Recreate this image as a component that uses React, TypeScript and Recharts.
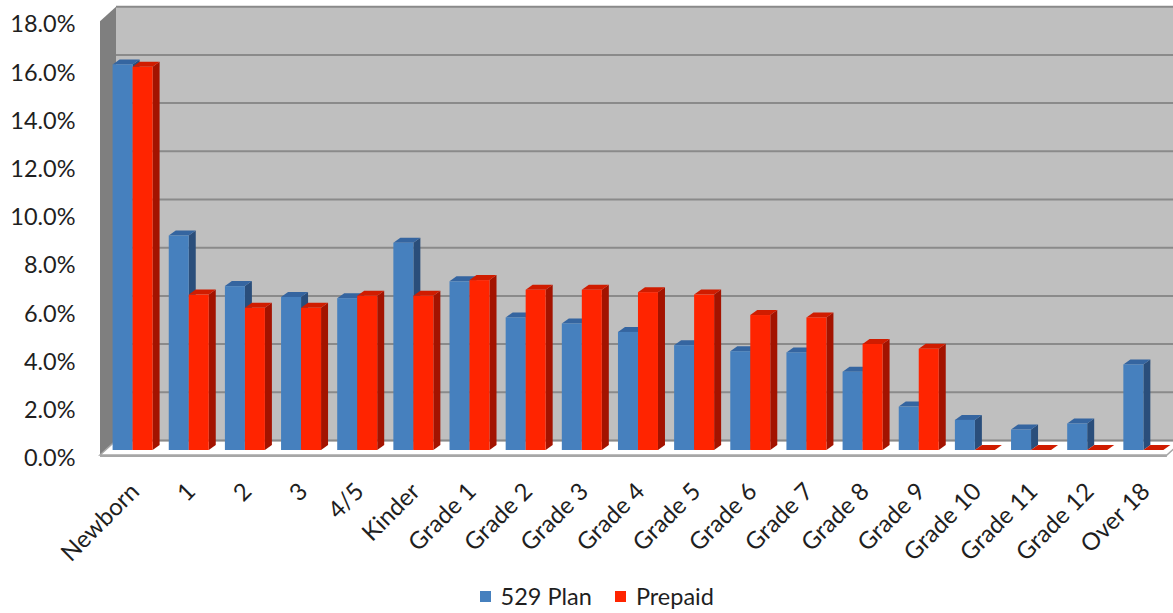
import React from 'react'
import { Bar, BarChart, CartesianGrid, Legend, ReferenceArea, XAxis, YAxis } from 'recharts'

const categories = [
  'Newborn', '1', '2', '3', '4/5', 'Kinder', 'Grade 1', 'Grade 2', 'Grade 3', 'Grade 4',
  'Grade 5', 'Grade 6', 'Grade 7', 'Grade 8', 'Grade 9', 'Grade 10', 'Grade 11', 'Grade 12', 'Over 18',
]
const plan529 = [16.0, 8.9, 6.8, 6.35, 6.3, 8.6, 7.0, 5.5, 5.25, 4.9, 4.35, 4.1, 4.05, 3.25, 1.8, 1.25, 0.85, 1.1, 3.55]
const prepaid = [15.9, 6.45, 5.9, 5.9, 6.4, 6.4, 7.05, 6.65, 6.65, 6.55, 6.45, 5.6, 5.5, 4.4, 4.2, 0, 0, 0, 0]
const yTicks = [0, 2, 4, 6, 8, 10, 12, 14, 16, 18]

const data = categories.map((name, i) => ({ name, plan529: plan529[i], prepaid: prepaid[i] }))

const W = 1173
const H = 613
const FONT = 'Lato, "Open Sans", sans-serif'
// 3d look: front edge of the floor and the back wall, relative to the bar plane
const FRONT = { dx: -4.6, dy: 5 }
const BACK = { dx: 11.4, dy: -9.5 }
const DEPTH = { dx: 7, dy: 5 }

function Walls(props: any) {
  const { x, y, width, height } = props
  const bottom = y + height
  const bx = x + BACK.dx
  const by = y + BACK.dy
  const fx = x + FRONT.dx
  return (
    <g>
      <rect x={bx} y={by} width={W - bx} height={height} fill="#BFBFBF" />
      <polygon
        points={`${fx},${y + FRONT.dy} ${bx},${by} ${bx},${bottom + BACK.dy} ${fx},${bottom + FRONT.dy}`}
        fill="#7F7F7F"
      />
      <polygon
        points={`${fx},${bottom + FRONT.dy} ${bx},${bottom + BACK.dy} ${x + width + BACK.dx},${bottom + BACK.dy} ${x + width + FRONT.dx},${bottom + FRONT.dy}`}
        fill="#FFFFFF"
        stroke="#A6A6A6"
        strokeWidth={1.5}
      />
      <line x1={fx} y1={bottom + FRONT.dy + 1} x2={x + width + FRONT.dx} y2={bottom + FRONT.dy + 1} stroke="#A6A6A6" strokeWidth={2} />
    </g>
  )
}

function Bar3D(props: any) {
  const { x, y, width, height, fill, top, side } = props
  if (x == null || y == null) return null
  const { dx, dy } = DEPTH
  return (
    <g>
      <polygon points={`${x + width},${y} ${x + width + dx},${y - dy} ${x + width + dx},${y + height - dy} ${x + width},${y + height}`} fill={side} />
      <polygon points={`${x},${y} ${x + dx},${y - dy} ${x + width + dx},${y - dy} ${x + width},${y}`} fill={top} />
      {height > 0 && <rect x={x} y={y} width={width} height={height} fill={fill} />}
    </g>
  )
}

function GridLine(props: any) {
  const { x1, y1, y2 } = props
  return <line x1={x1 + BACK.dx} y1={y1 + BACK.dy} x2={W} y2={y2 + BACK.dy} stroke="#8A8A8A" strokeWidth={2} />
}

function YTick(props: any) {
  const { x, y, payload } = props
  return (
    <text x={x} y={y + FRONT.dy + 3} dy="0.35em" textAnchor="end" fontSize={23.5} fontFamily={FONT} fill="#1F1F1F">
      {payload.value.toFixed(1)}%
    </text>
  )
}

function XTick(props: any) {
  const { x, y, payload } = props
  return (
    <text
      transform={`translate(${x + 8},${y}) rotate(-45)`}
      textAnchor="end"
      fontSize={24}
      fontFamily={FONT}
      fill="#1F1F1F"
    >
      {payload.value}
    </text>
  )
}

function LegendContent(props: any) {
  const { payload } = props
  return (
    <div style={{ height: 34, display: 'flex', justifyContent: 'center', alignItems: 'center', gap: 23, paddingLeft: 22 }}>
      {payload.map((item: any) => (
        <div key={item.value} style={{ display: 'flex', alignItems: 'center', gap: 10 }}>
          <span style={{ width: 11, height: 11, background: item.color, display: 'inline-block' }} />
          <span style={{ fontFamily: FONT, fontSize: 23.5, color: '#1F1F1F', lineHeight: '34px' }}>{item.value}</span>
        </div>
      ))}
    </div>
  )
}

export default function App() {
  return (
    <div style={{ position: 'absolute', left: 0, top: 0, width: W, height: H, background: '#fff' }}>
      <BarChart
        width={W}
        height={H}
        data={data}
        margin={{ top: 16.2, right: 1.5, bottom: 0, left: 0 }}
        barSize={20}
        barGap={0}
      >
        <ReferenceArea y1={0} y2={18} shape={<Walls />} ifOverflow="visible" zIndex={-200} />
        <CartesianGrid vertical={false} horizontal={(p: any) => <GridLine key={p.key} {...p} />} />
        <XAxis
          dataKey="name"
          interval={0}
          axisLine={false}
          tickLine={false}
          tickSize={0}
          tickMargin={43}
          height={129}
          tick={<XTick />}
        />
        <YAxis
          domain={[0, 18]}
          ticks={yTicks}
          width={104.6}
          axisLine={false}
          tickLine={false}
          tickSize={0}
          tickMargin={29}
          tick={<YTick />}
        />
        <Legend verticalAlign="bottom" content={<LegendContent />} />
        <Bar
          dataKey="plan529"
          name="529 Plan"
          fill="#4680BE"
          isAnimationActive={false}
          shape={(p: any) => <Bar3D {...p} top="#3565A0" side="#2A4E7B" />}
        />
        <Bar
          dataKey="prepaid"
          name="Prepaid"
          fill="#FF2400"
          isAnimationActive={false}
          shape={(p: any) => <Bar3D {...p} top="#D01C00" side="#A31300" />}
        />
      </BarChart>
    </div>
  )
}
